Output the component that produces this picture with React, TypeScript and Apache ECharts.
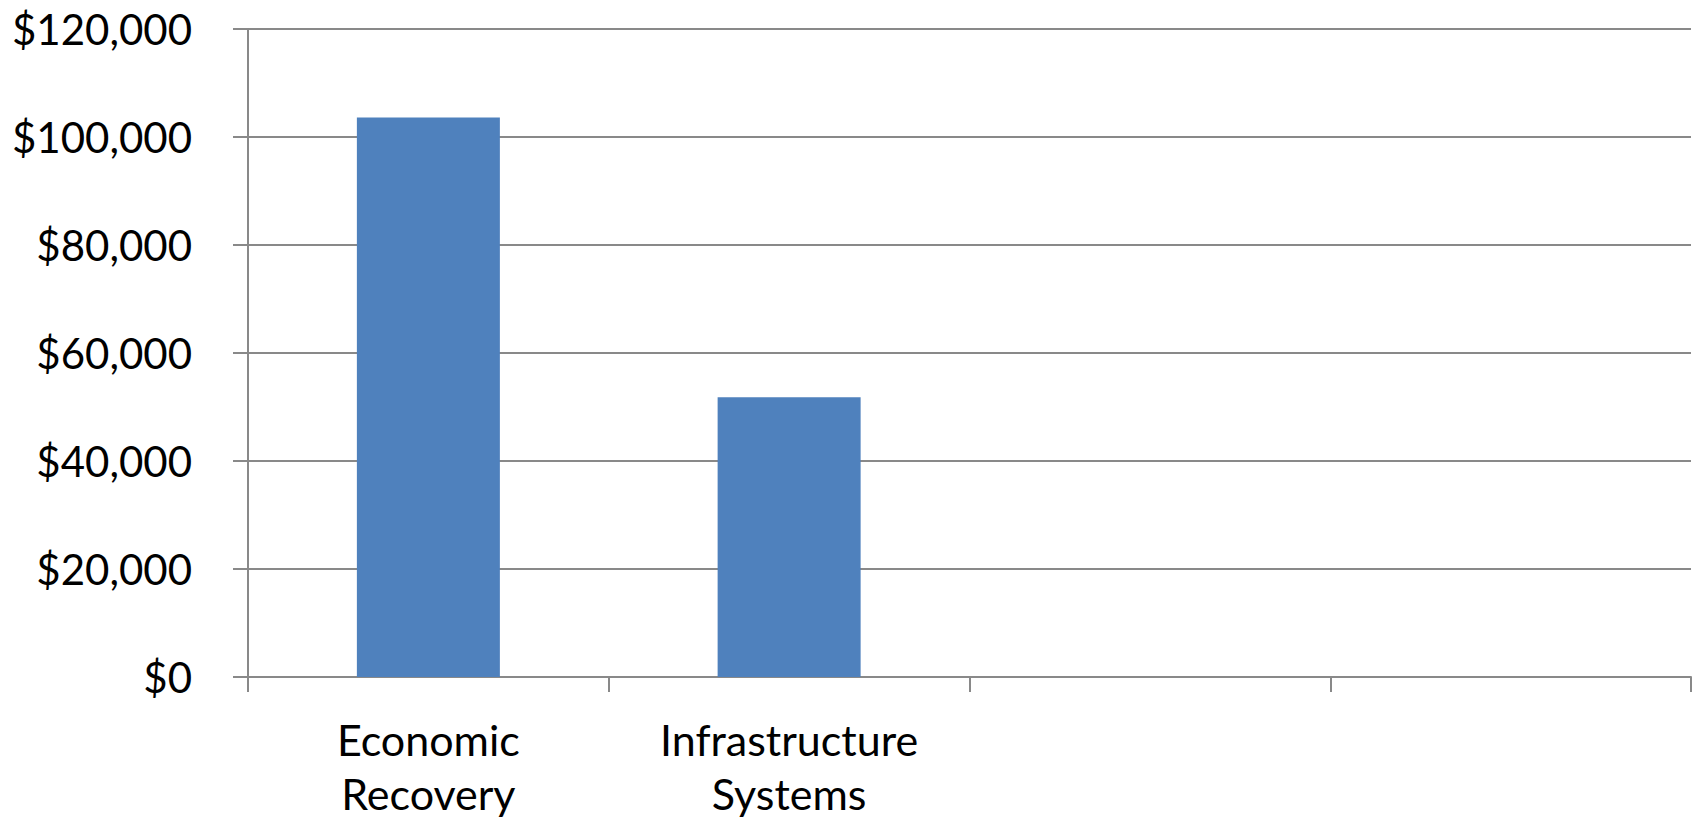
import React, { useEffect, useRef } from "react";
import * as echarts from "echarts";

const categories = ["Economic\nRecovery", "Infrastructure\nSystems", "", ""];
const values: (number | string)[] = [103600, 51800, "-", "-"];
const yMin = 0;
const yMax = 120000;
const yInterval = 20000;

const fmt = (v: number) => "$" + v.toLocaleString("en-US");

export default function App() {
  const ref = useRef<HTMLDivElement>(null);
  useEffect(() => {
    if (!ref.current) return;
    const chart = echarts.init(ref.current, null, { renderer: "svg" });
    const gray = "#898989";
    chart.setOption({
      animation: false,
      backgroundColor: "#ffffff",
      grid: {
        left: 248,
        right: 5,
        top: 29,
        bottom: 143,
        containLabel: false,
        outerBoundsMode: "none",
      },
      xAxis: {
        type: "category",
        data: categories,
        boundaryGap: true,
        axisLine: { show: true, lineStyle: { color: gray, width: 2 } },
        axisTick: { show: true, length: 15, alignWithLabel: false, lineStyle: { color: gray, width: 2 } },
        axisLabel: {
          interval: 0,
          margin: 35,
          fontFamily: "Lato",
          fontSize: 43,
          lineHeight: 54,
          color: "#000000",
        },
        splitLine: { show: false },
      },
      yAxis: {
        type: "value",
        min: yMin,
        max: yMax,
        interval: yInterval,
        axisLine: { show: true, lineStyle: { color: gray, width: 2 } },
        axisTick: { show: true, length: 15, lineStyle: { color: gray, width: 2 } },
        axisLabel: {
          margin: 56,
          fontFamily: "Lato",
          fontSize: 42,
          color: "#000000",
          formatter: (v: number) => fmt(v),
        },
        splitLine: { show: true, lineStyle: { color: gray, width: 2 } },
      },
      series: [
        {
          type: "bar",
          data: values,
          barWidth: 143,
          itemStyle: { color: "#4F81BD" },
        },
      ],
    });
    return () => chart.dispose();
  }, []);
  return (
    <div
      ref={ref}
      style={{ position: "fixed", left: 0, top: 0, width: 1696, height: 820 }}
    />
  );
}
